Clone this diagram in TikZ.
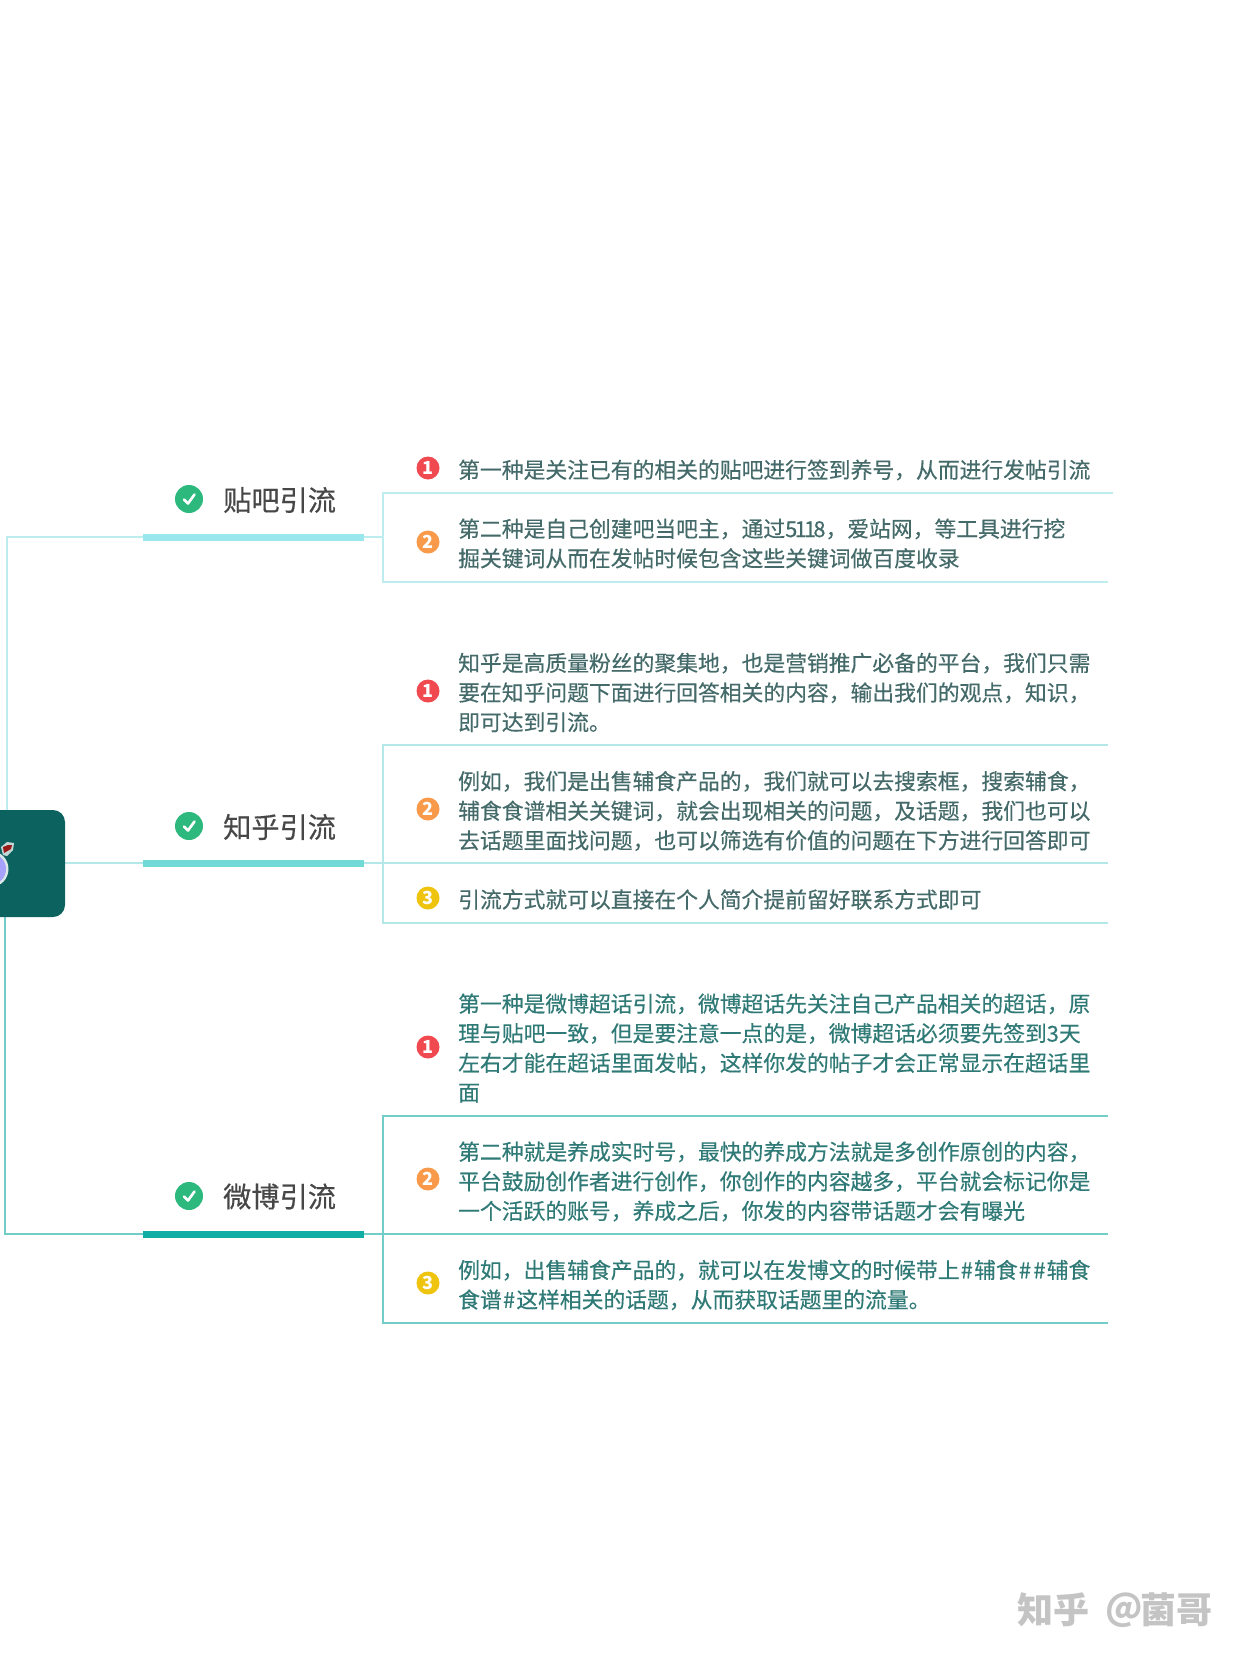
\documentclass[tikz,border=0pt]{standalone}
\usepackage{fontspec}
\setmainfont{Noto Sans CJK SC}
\newfontfamily\itemfont[RawFeature={embolden=0.35}]{Noto Sans CJK SC}
\definecolor{rootc}{HTML}{0B625F}
\definecolor{la}{HTML}{BDEDEF}\definecolor{ba}{HTML}{9BE7EE}
\definecolor{lb}{HTML}{B4E8E8}\definecolor{bb}{HTML}{72DAD6}
\definecolor{lc}{HTML}{72CCC7}\definecolor{bc}{HTML}{10ADA5}
\definecolor{ta}{HTML}{446A69}\definecolor{tc}{HTML}{2F7A76}
\definecolor{nred}{HTML}{F04A50}\definecolor{norg}{HTML}{F89A4A}\definecolor{nyel}{HTML}{EEC40F}
\definecolor{okc}{HTML}{2DB87E}\definecolor{wm}{HTML}{C4C4C4}
\tikzset{
 topic/.style={anchor=west,inner sep=0pt,text=black!72,font=\itemfont\fontsize{28.2}{30}\selectfont},
 item/.style={anchor=west,inner sep=0pt,align=left,font=\itemfont\fontsize{21.8}{29.6}\selectfont},
 numdot/.style={circle,minimum size=23pt,inner sep=0pt,text=white,font=\fontsize{18}{18}\selectfont\bfseries},
 okdot/.style={circle,minimum size=28pt,inner sep=0pt,fill=okc},
 mark line/.style={white,line width=2.6pt,line cap=round,line join=round},
 wmtext/.style={inner sep=0pt,text=wm,font=\fontsize{36}{36}\selectfont\bfseries},
 brk/.style={line width=2pt},
 bar/.style={line width=7pt},
}
\newcommand{\oktick}[1]{\draw[mark line] ([shift={(-5,0.5)}]#1.center) -- ([shift={(-1,4.5)}]#1.center) -- ([shift={(5.5,-4.5)}]#1.center);}
\newcommand{\hs}{\kern1.2pt\#\kern1.2pt}
\begin{document}
\begin{tikzpicture}[x=1pt,y=-1pt]
\useasboundingbox[fill=white] (0,0) rectangle (1242,1660);
% junctions and free ends
\coordinate (ra) at (6.5,537); \coordinate (rat) at (6.5,812);
\coordinate (rb) at (65,863);
\coordinate (rc) at (4.5,1234); \coordinate (rct) at (4.5,915);
\coordinate (ba1) at (143,537); \coordinate (ba2) at (364,537); \coordinate (ja) at (382.5,537);
\coordinate (bb1) at (143,863); \coordinate (bb2) at (364,863); \coordinate (jb) at (382.5,863);
\coordinate (bc1) at (143,1234); \coordinate (bc2) at (364,1234); \coordinate (jc) at (382.5,1234);
\coordinate (a1) at (382.5,493); \coordinate (a1e) at (1113,493);
\coordinate (a2) at (382.5,582); \coordinate (a2e) at (1108,582);
\coordinate (b1) at (382.5,745); \coordinate (b1e) at (1108,745);
\coordinate (bme) at (1108,863);
\coordinate (b2) at (382.5,923); \coordinate (b2e) at (1108,923);
\coordinate (c1) at (382.5,1115.5); \coordinate (c1e) at (1108,1115.5);
\coordinate (cme) at (1108,1234);
\coordinate (c2) at (382.5,1322.5); \coordinate (c2e) at (1108,1322.5);
% connectors
\draw[la,brk] (ba1) -- (ra) -- (rat);
\draw[lb,brk] (rb) -- (bb1);
\draw[lc,brk] (bc1) -- (rc) -- (rct);
\draw[la,brk] (ba2) -- (ja);
\draw[lb,brk] (bb2) -- (jb);
\draw[lc,brk] (bc2) -- (jc);
\draw[la,brk] (a1e) -- (a1) -- (a2) -- (a2e);
\draw[lb,brk] (b1e) -- (b1) -- (b2) -- (b2e);
\draw[lb,brk] (jb) -- (bme);
\draw[lc,brk] (c1e) -- (c1) -- (c2) -- (c2e);
\draw[lc,brk] (jc) -- (cme);
\draw[ba,bar] (ba1) -- (ba2);
\draw[bb,bar] (bb1) -- (bb2);
\draw[bc,bar] (bc1) -- (bc2);
% root
\fill[rootc,rounded corners=12pt] (-20,810) rectangle (65,917);
\begin{scope}
\clip (0,800) rectangle (30,930);
\fill[white!85!rootc] (-8,869) ellipse (16.5 and 17.5);
\fill[blue!42!violet!10!white!70!blue] (-8,869) ellipse (14 and 15);
\fill[white!75!rootc] (3,855) -- (1,847) -- (7,842) -- (14,843) -- (13,850) -- (7,856) -- cycle;
\fill[red!55!black!90] (4,853) -- (3,847) -- (8,845) -- (12,845) -- (11,849) -- cycle;
\end{scope}
% topics
\node[okdot] (oka) at (189,499) {}; \oktick{oka}
\node[okdot] (okb) at (189,826) {}; \oktick{okb}
\node[okdot] (okc) at (189,1196) {}; \oktick{okc}
\node[topic] (ta) at (223,500) {贴吧引流};
\node[topic] (tb) at (223,827) {知乎引流};
\node[topic] (tc) at (223,1196.5) {微博引流};
% numbers
\node[numdot,fill=nred] (na1) at (428,468) {1};
\node[numdot,fill=norg] (na2) at (428,542) {2};
\node[numdot,fill=nred] (nb1) at (428,691) {1};
\node[numdot,fill=norg] (nb2) at (428,809) {2};
\node[numdot,fill=nyel] (nb3) at (428,898) {3};
\node[numdot,fill=nred] (nc1) at (428,1047) {1};
\node[numdot,fill=norg] (nc2) at (428,1179) {2};
\node[numdot,fill=nyel] (nc3) at (428,1283) {3};
% items
\node[item,text=ta] (ia1) at (458,470) {第一种是关注已有的相关的贴吧进行签到养号，从而进行发帖引流};
\node[item,text=ta] (ia2) at (458,543.5) {第二种是自己创建吧当吧主，通过5\kern-2.7pt 1\kern-2.7pt 1\kern-2.7pt 8，爱站网，等工具进行挖\\掘关键词从而在发帖时候包含这些关键词做百度收录};
\node[item,text=ta] (ib1) at (458,692.5) {知乎是高质量粉丝的聚集地，也是营销推广必备的平台，我们只需\\要在知乎问题下面进行回答相关的内容，输出我们的观点，知识，\\即可达到引流。};
\node[item,text=ta] (ib2) at (458,811) {例如，我们是出售辅食产品的，我们就可以去搜索框，搜索辅食，\\辅食食谱相关关键词，就会出现相关的问题，及话题，我们也可以\\去话题里面找问题，也可以筛选有价值的问题在下方进行回答即可};
\node[item,text=ta] (ib3) at (458,899.5) {引流方式就可以直接在个人简介提前留好联系方式即可};
\node[item,text=tc] (ic1) at (458,1048) {第一种是微博超话引流，微博超话先关注自己产品相关的超话，原\\理与贴吧一致，但是要注意一点的是，微博超话必须要先签到3天\\左右才能在超话里面发帖，这样你发的帖子才会正常显示在超话里\\面};
\node[item,text=tc] (ic2) at (458,1181.5) {第二种就是养成实时号，最快的养成方法就是多创作原创的内容，\\平台鼓励创作者进行创作，你创作的内容越多，平台就会标记你是\\一个活跃的账号，养成之后，你发的内容带话题才会有曝光};
\node[item,text=tc] (ic3) at (458,1285) {例如，出售辅食产品的，就可以在发博文的时候带上\hs 辅食\hs\hs 辅食\\食谱\hs 这样相关的话题，从而获取话题里的流量。};
% watermark
\node[wmtext,anchor=west] (wm1) at (1017,1610) {知乎};
\node[wmtext,anchor=west] (wm2) at (1105,1610) {@};
\node[wmtext,anchor=west] (wm3) at (1140,1610) {菌哥};
\end{tikzpicture}
\end{document}
